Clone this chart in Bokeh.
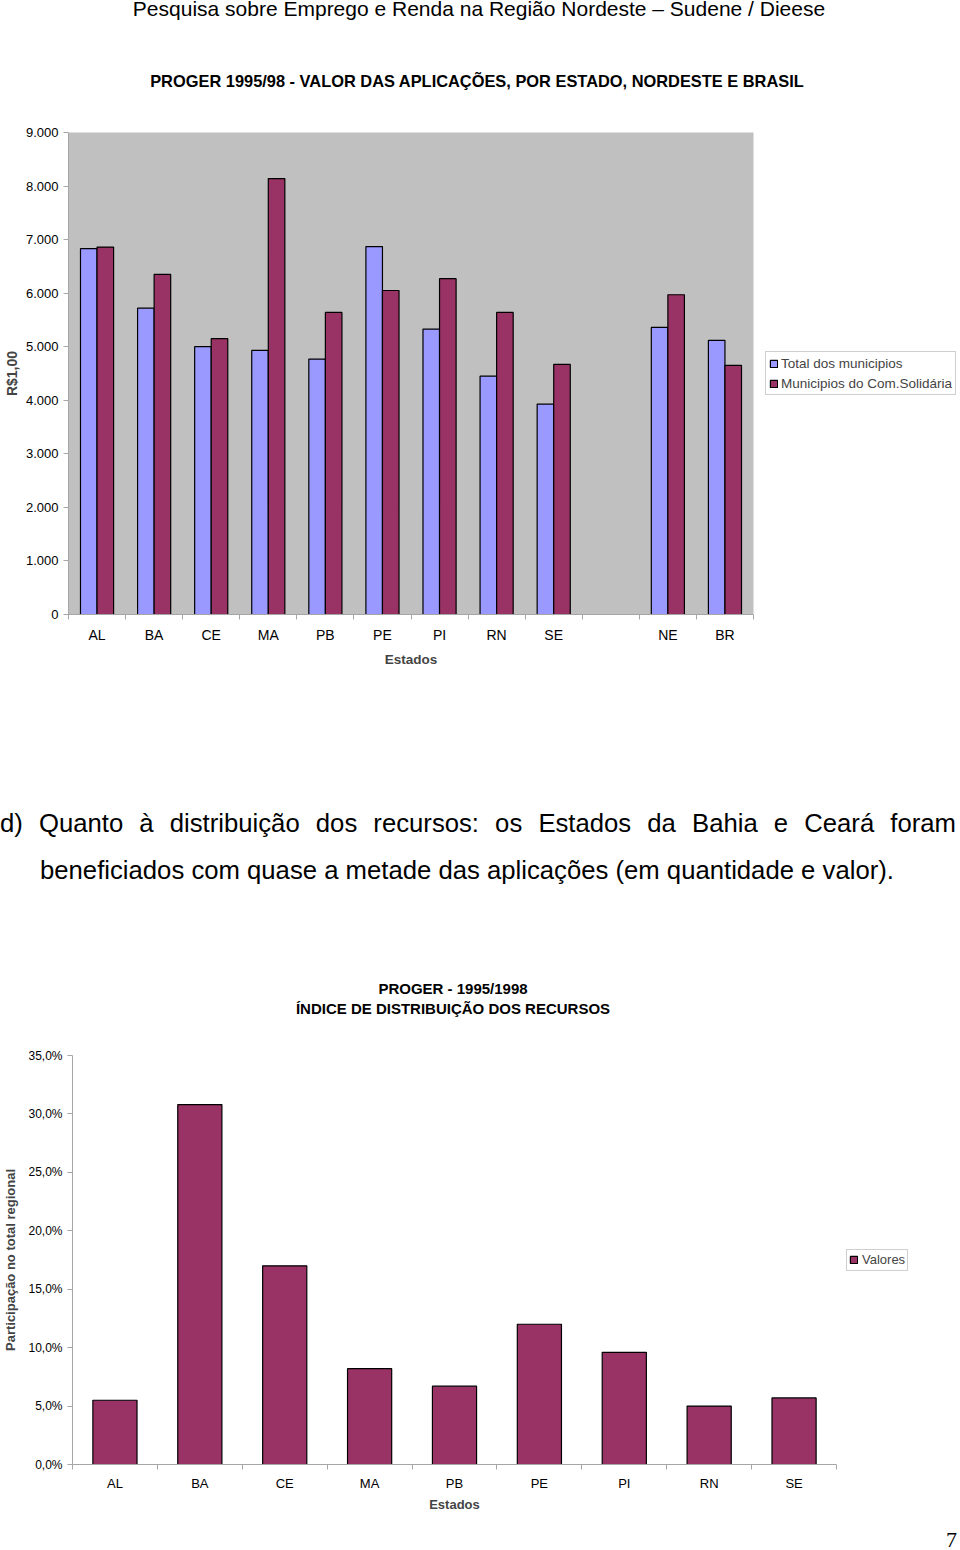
from bokeh.plotting import figure
from bokeh.models import Range1d, FixedTicker, Legend, LegendItem, Div, ColumnDataSource
from bokeh.transform import dodge
from bokeh.layouts import column
from bokeh.embed import file_html
from bokeh.resources import INLINE

# ---------------- data ----------------
header_text = "Pesquisa sobre Emprego e Renda na Região Nordeste – Sudene / Dieese"
title1 = "PROGER 1995/98 - VALOR DAS APLICAÇÕES, POR ESTADO, NORDESTE E BRASIL"
states1 = ["AL", "BA", "CE", "MA", "PB", "PE", "PI", "RN", "SE", "", "NE", "BR"]
total_municipios = [6830, 5720, 5000, 4930, 4770, 6870, 5330, 4450, 3930, None, 5360, 5120]
municipios_solidaria = [6860, 6350, 5150, 8140, 5640, 6050, 6270, 5640, 4670, None, 5970, 4650]
series1_names = ["Total dos municipios", "Municipios do Com.Solidária"]
y1_ticks = [0, 1000, 2000, 3000, 4000, 5000, 6000, 7000, 8000, 9000]
y1_labels = ["0", "1.000", "2.000", "3.000", "4.000", "5.000", "6.000", "7.000", "8.000", "9.000"]
y1_title = "R$1,00"
x_title = "Estados"

paragraph_line1 = "d) Quanto à distribuição dos recursos: os Estados da Bahia e Ceará foram"
paragraph_line2 = "beneficiados com quase a metade das aplicações (em quantidade e valor)."

title2_line1 = "PROGER - 1995/1998"
title2_line2 = "ÍNDICE DE DISTRIBUIÇÃO DOS RECURSOS"
states2 = ["AL", "BA", "CE", "MA", "PB", "PE", "PI", "RN", "SE"]
participacao = [5.5, 30.8, 17.0, 8.2, 6.7, 12.0, 9.6, 5.0, 5.7]
series2_name = "Valores"
y2_ticks = [0, 5, 10, 15, 20, 25, 30, 35]
y2_labels = ["0,0%", "5,0%", "10,0%", "15,0%", "20,0%", "25,0%", "30,0%", "35,0%"]
y2_title = "Participação no total regional"
page_number = "7"

# ---------------- style ----------------
FONT = "Liberation Sans"
BLUE = "#9999FF"
PLUM = "#993366"
AXIS_GRAY = "#A6A6A6"

# ---------------- chart 1 ----------------
keep = [i for i, v in enumerate(total_municipios) if v is not None]
src1 = ColumnDataSource(dict(
    x=keep,
    total=[total_municipios[i] for i in keep],
    solid=[municipios_solidaria[i] for i in keep],
))

p1 = figure(frame_width=685, frame_height=482, x_range=Range1d(-0.5, len(states1) - 0.5),
            y_range=Range1d(0, 9000), output_backend="svg", toolbar_location=None,
            title=None, min_border_left=68, min_border_right=207, min_border_top=12,
            min_border_bottom=76, background_fill_color="#C0C0C0",
            border_fill_color="white", outline_line_color=None, margin=0,
            frame_align=False)
p1.grid.visible = False

r_a = p1.vbar(x=dodge("x", -0.145), top="total", bottom=0, width=0.29, source=src1,
              fill_color=BLUE, line_color="black", line_width=1.2)
r_b = p1.vbar(x=dodge("x", 0.145), top="solid", bottom=0, width=0.29, source=src1,
              fill_color=PLUM, line_color="black", line_width=1.2)

xa = p1.xaxis[0]
xa.ticker = FixedTicker(ticks=[i for i, s in enumerate(states1) if s],
                        minor_ticks=[i - 0.5 for i in range(len(states1) + 1)])
xa.major_label_overrides = {i: s for i, s in enumerate(states1) if s}
xa.major_tick_out = 0
xa.major_tick_in = 0
xa.minor_tick_out = 5
xa.minor_tick_in = 0
xa.minor_tick_line_color = AXIS_GRAY
xa.axis_line_color = AXIS_GRAY
xa.major_label_standoff = 7
xa.major_label_text_font = FONT
xa.major_label_text_font_size = "14px"
xa.major_label_text_color = "black"
xa.axis_label = x_title
xa.axis_label_text_font = FONT
xa.axis_label_text_font_style = "bold"
xa.axis_label_text_font_size = "13.5px"
xa.axis_label_standoff = 6

ya = p1.yaxis[0]
ya.ticker = FixedTicker(ticks=y1_ticks, minor_ticks=[])
ya.major_label_overrides = {t: l for t, l in zip(y1_ticks, y1_labels)}
ya.major_tick_out = 5
ya.major_tick_in = 0
ya.minor_tick_out = 0
ya.minor_tick_in = 0
ya.major_tick_line_color = AXIS_GRAY
ya.axis_line_color = AXIS_GRAY
ya.major_label_standoff = 5
ya.major_label_text_font = FONT
ya.major_label_text_font_size = "13px"
ya.major_label_text_color = "black"
ya.axis_label = y1_title
ya.axis_label_text_font = FONT
ya.axis_label_text_font_style = "bold"
ya.axis_label_text_font_size = "14px"
ya.axis_label_standoff = 3

leg1 = Legend(items=[LegendItem(label=series1_names[0], renderers=[r_a]),
                     LegendItem(label=series1_names[1], renderers=[r_b])],
              location="left", margin=12, padding=3, spacing=4, glyph_width=9,
              glyph_height=9, label_standoff=3, label_height=16,
              label_text_font=FONT, label_text_font_size="13.5px",
              border_line_color="#A0A0A0", border_line_width=1,
              background_fill_color="white", background_fill_alpha=1.0)
p1.add_layout(leg1, "right")

# ---------------- chart 2 ----------------
src2 = ColumnDataSource(dict(x=list(range(len(states2))), v=participacao))
p2 = figure(frame_width=764, frame_height=409, x_range=Range1d(-0.5, len(states2) - 0.5),
            y_range=Range1d(0, 35), output_backend="svg", toolbar_location=None,
            title=None, min_border_left=72, min_border_right=124, min_border_top=25,
            min_border_bottom=66, background_fill_color="white",
            border_fill_color="white", outline_line_color=None, margin=0,
            frame_align=False)
p2.grid.visible = False
r_c = p2.vbar(x="x", top="v", bottom=0, width=0.52, source=src2,
              fill_color=PLUM, line_color="black", line_width=1.2)

xb = p2.xaxis[0]
xb.ticker = FixedTicker(ticks=list(range(len(states2))),
                        minor_ticks=[i - 0.5 for i in range(len(states2) + 1)])
xb.major_label_overrides = {i: s for i, s in enumerate(states2)}
xb.major_tick_out = 0
xb.major_tick_in = 0
xb.minor_tick_out = 5
xb.minor_tick_in = 0
xb.minor_tick_line_color = AXIS_GRAY
xb.axis_line_color = AXIS_GRAY
xb.major_label_standoff = 6
xb.major_label_text_font = FONT
xb.major_label_text_font_size = "13px"
xb.major_label_text_color = "black"
xb.axis_label = x_title
xb.axis_label_text_font = FONT
xb.axis_label_text_font_style = "bold"
xb.axis_label_text_font_size = "13px"
xb.axis_label_standoff = 3

yb = p2.yaxis[0]
yb.ticker = FixedTicker(ticks=y2_ticks, minor_ticks=[])
yb.major_label_overrides = {t: l for t, l in zip(y2_ticks, y2_labels)}
yb.major_tick_out = 5
yb.major_tick_in = 0
yb.minor_tick_out = 0
yb.minor_tick_in = 0
yb.major_tick_line_color = AXIS_GRAY
yb.axis_line_color = AXIS_GRAY
yb.major_label_standoff = 5
yb.major_label_text_font = FONT
yb.major_label_text_font_size = "12px"
yb.major_label_text_color = "black"
yb.axis_label = y2_title
yb.axis_label_text_font = FONT
yb.axis_label_text_font_style = "bold"
yb.axis_label_text_font_size = "13px"
yb.axis_label_standoff = 7

leg2 = Legend(items=[LegendItem(label=series2_name, renderers=[r_c])],
              location="left", margin=10, padding=2, spacing=0, glyph_width=9,
              glyph_height=9, label_standoff=4, label_height=16,
              label_text_font=FONT, label_text_font_size="13px",
              border_line_color="#A0A0A0", border_line_width=1,
              background_fill_color="white", background_fill_alpha=1.0)
p2.add_layout(leg2, "right")

# ---------------- text blocks ----------------
SANS = "'Liberation Sans', Arial, sans-serif"

divA = Div(width=960, height=120, margin=0, text=(
    f'<div style="position:relative;width:960px;height:120px;font-family:{SANS};color:#000;">'
    f'<div style="position:absolute;left:0;top:-3px;width:958px;text-align:center;'
    f'font-size:21px;line-height:24px;white-space:nowrap;">{header_text}</div>'
    f'<div style="position:absolute;left:0;top:71px;width:954px;text-align:center;'
    f'font-size:16.4px;font-weight:bold;line-height:20px;white-space:nowrap;">{title1}</div>'
    f'</div>'))

divB = Div(width=960, height=340, margin=0, text=(
    f'<div style="position:relative;width:960px;height:340px;font-family:{SANS};color:#000;">'
    f'<div style="position:absolute;left:0;top:118px;width:956px;font-size:25.7px;line-height:30px;'
    f'text-align:justify;text-align-last:justify;">{paragraph_line1}</div>'
    f'<div style="position:absolute;left:40px;top:165px;width:916px;font-size:25.7px;line-height:30px;'
    f'white-space:nowrap;">{paragraph_line2}</div>'
    f'<div style="position:absolute;left:0;top:289px;width:906px;text-align:center;font-size:15px;'
    f'font-weight:bold;line-height:20px;white-space:nowrap;">{title2_line1}</div>'
    f'<div style="position:absolute;left:0;top:309px;width:906px;text-align:center;font-size:15px;'
    f'font-weight:bold;line-height:20px;white-space:nowrap;">{title2_line2}</div>'
    f'</div>'))

divD = Div(width=960, height=20, margin=0, text=(
    f'<div style="position:relative;width:960px;height:20px;">'
    f'<div style="position:absolute;right:3px;top:0;font-family:\'Liberation Serif\', serif;'
    f'font-size:22px;line-height:20px;color:#000;">{page_number}</div></div>'))

layout = column(divA, p1, divB, p2, divD, spacing=0, margin=0)

open("out.html", "w").write(file_html(layout, INLINE))
